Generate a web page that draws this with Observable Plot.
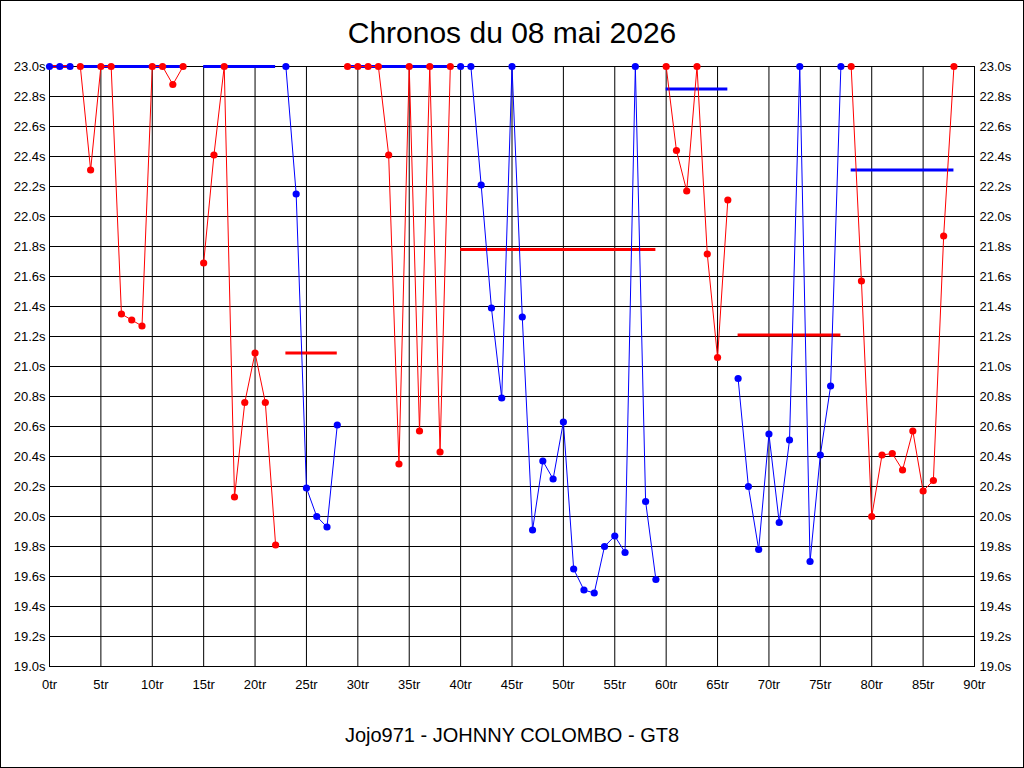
<!DOCTYPE html>
<html>
<head>
<meta charset="utf-8">
<script src="https://cdn.jsdelivr.net/npm/d3@7"></script>
<script src="https://cdn.jsdelivr.net/npm/@observablehq/plot@0.6"></script>
<style>
  html, body { margin: 0; padding: 0; background: #fff; }
  #wrap { position: relative; width: 1024px; height: 768px; background: #fff; overflow: hidden;
          font-family: "Liberation Sans", Arial, sans-serif; color: #000; }
  #border { position: absolute; left: 0; top: 0; width: 1024px; height: 768px; box-sizing: border-box;
            border: 1px solid #000; pointer-events: none; }
  #title { position: absolute; left: 0; top: 18px; width: 1024px; text-align: center;
           font-size: 30px; line-height: 30px; }
  #footer { position: absolute; left: 0; top: 725px; width: 1024px; text-align: center;
            font-size: 20px; line-height: 20px; }
  #chart { position: absolute; left: 0; top: 50px; }
</style>
</head>
<body>
<div id="wrap">
  <div id="title">Chronos du 08 mai 2026</div>
  <div id="chart"></div>
  <div id="footer">Jojo971 - JOHNNY COLOMBO - GT8</div>
  <div id="border"></div>
</div>
<script>
// ---- Data ----
const titleText = "Chronos du 08 mai 2026";
const xTicks = [0, 5, 10, 15, 20, 25, 30, 35, 40, 45, 50, 55, 60, 65, 70, 75, 80, 85, 90];
const yTicks = [19.0, 19.2, 19.4, 19.6, 19.8, 20.0, 20.2, 20.4, 20.6, 20.8, 21.0, 21.2, 21.4, 21.6, 21.8, 22.0, 22.2, 22.4, 22.6, 22.8, 23.0];

// stints: first lap, driver colour group, lap times (values above 23.0s shown at 23.0s)
const stintStart = [0, 3, 15, 23, 29, 40, 60, 67, 78];
const stintDriver = ["bleu", "rouge", "rouge", "bleu", "rouge", "bleu", "rouge", "bleu", "rouge"];
const stint1 = [23.0, 23.0, 23.0];
const stint2 = [23.0, 22.31, 23.0, 23.0, 21.35, 21.31, 21.27, 23.0, 23.0, 22.88, 23.0];
const stint3 = [21.69, 22.41, 23.0, 20.13, 20.76, 21.09, 20.76, 19.81];
const stint4 = [23.0, 22.15, 20.19, 20.00, 19.93, 20.61];
const stint5 = [23.0, 23.0, 23.0, 23.0, 22.41, 20.35, 23.0, 20.57, 23.0, 20.43, 23.0];
const stint6 = [23.0, 23.0, 22.21, 21.39, 20.79, 23.0, 21.33, 19.91, 20.37, 20.25, 20.63, 19.65, 19.51, 19.49, 19.80, 19.87, 19.76, 23.0, 20.10, 19.58];
const stint7 = [23.0, 22.44, 22.17, 23.0, 21.75, 21.06, 22.11];
const stint8 = [20.92, 20.20, 19.78, 20.55, 19.96, 20.51, 23.0, 19.70, 20.41, 20.87, 23.0];
const stint9 = [23.0, 21.57, 20.00, 20.41, 20.42, 20.31, 20.57, 20.17, 20.24, 21.87, 23.0];
const stintTimes = [stint1, stint2, stint3, stint4, stint5, stint6, stint7, stint8, stint9];
// stint average lines (drawn in the other colour over the stint's span)
const stintAvg = [23.0, 23.0, 23.0, 21.09, 23.0, 21.78, 22.85, 21.21, 22.31];

// ---- Tables built from the arrays ----
const rows = stintTimes.flatMap((ts, s) =>
  ts.map((t, i) => ({lap: stintStart[s] + i, time: t, stint: s, driver: stintDriver[s]})));
const avgRows = stintAvg.map((a, s) => ({
  x1: stintStart[s],
  x2: stintStart[s] + stintTimes[s].length - 1,
  y: a,
  driver: stintDriver[s] === "rouge" ? "bleu" : "rouge"
}));

const fmtY = d => d.toFixed(1) + "s";
const fmtX = d => d + "tr";

const chart = Plot.plot({
  width: 1024,
  height: 650,
  marginLeft: 49,
  marginRight: 50,
  marginTop: 16,
  marginBottom: 34,
  style: {fontFamily: "'Liberation Sans', Arial, sans-serif", fontSize: "13px", background: "white", color: "black", overflow: "visible"},
  x: {domain: [0, 90]},
  y: {domain: [19, 23]},
  color: {domain: ["rouge", "bleu"], range: ["#ff0000", "#0000ff"]},
  marks: [
    Plot.gridY(yTicks, {stroke: "black", strokeOpacity: 1, strokeWidth: 1}),
    Plot.gridX(xTicks, {stroke: "black", strokeOpacity: 1, strokeWidth: 1}),
    Plot.frame({stroke: "black", strokeWidth: 1}),
    Plot.ruleY(avgRows, {y: "y", x1: "x1", x2: "x2", stroke: "driver", strokeWidth: 3}),
    Plot.line(rows, {x: "lap", y: "time", z: "stint", stroke: "driver", strokeWidth: 1}),
    Plot.dot(rows, {x: "lap", y: "time", fill: "driver", r: 3.6}),
    Plot.axisY(yTicks, {anchor: "left", tickSize: 0, tickPadding: 4, tickFormat: fmtY, label: null, fontSize: 13}),
    Plot.axisY(yTicks, {anchor: "right", tickSize: 0, tickPadding: 5, tickFormat: fmtY, label: null, fontSize: 13}),
    Plot.axisX(xTicks, {anchor: "bottom", tickSize: 0, tickPadding: 13, tickFormat: fmtX, label: null, fontSize: 13})
  ]
});
document.getElementById("chart").appendChild(chart);
document.getElementById("title").textContent = titleText;
</script>
</body>
</html>
